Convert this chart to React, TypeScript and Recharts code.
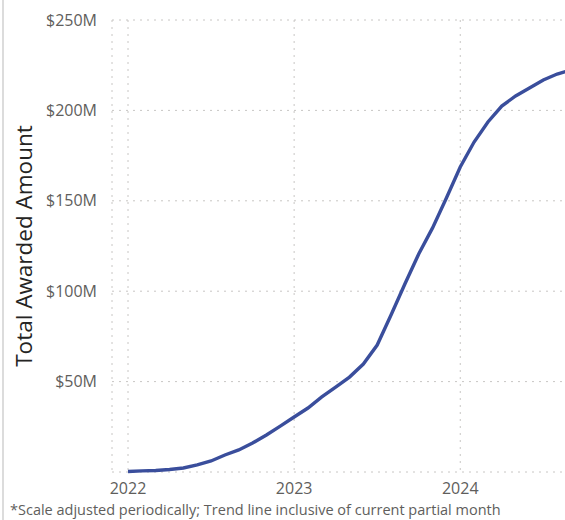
import React from 'react';
import { LineChart, Line, XAxis, YAxis, CartesianGrid } from 'recharts';

const months = [
  '2022-01', '2022-02', '2022-03', '2022-04', '2022-05', '2022-06',
  '2022-07', '2022-08', '2022-09', '2022-10', '2022-11', '2022-12',
  '2023-01', '2023-02', '2023-03', '2023-04', '2023-05', '2023-06',
  '2023-07', '2023-08', '2023-09', '2023-10', '2023-11', '2023-12',
  '2024-01', '2024-02', '2024-03', '2024-04', '2024-05', '2024-06',
  '2024-07', '2024-08', '2024-09',
];

const awardedM = [
  0.3, 0.6, 0.8, 1.4, 2.2, 3.9,
  6.1, 9.4, 12.2, 16.0, 20.5, 25.4,
  30.4, 35.4, 41.5, 47.0, 52.5, 59.7,
  70.2, 86.8, 104.0, 120.6, 135.0, 151.5,
  168.7, 182.5, 193.6, 202.4, 208.0, 212.4,
  216.8, 220.1, 222.3,
];

const yearTicks = [2022, 2023, 2024];
const valueTicks = [50, 100, 150, 200, 250];
const yTitle = 'Total Awarded Amount';
const footnote = '*Scale adjusted periodically; Trend line inclusive of current partial month';

const baseYear = 2022;
const data = months.map((m, i) => {
  const [y, mo] = m.split('-').map(Number);
  return { t: (y - baseYear) * 12 + (mo - 1), v: awardedM[i] };
});
const xTicks = yearTicks.map((y) => (y - baseYear) * 12);

const FONT = '"Segoe UI", "Open Sans", sans-serif';

export default function App() {
  return (
    <div
      style={{
        position: 'absolute',
        left: 0,
        top: 0,
        width: 565,
        height: 520,
        overflow: 'hidden',
        background: '#ffffff',
        fontFamily: FONT,
      }}
    >
      <div style={{ position: 'absolute', left: 0, top: 0 }}>
        <LineChart
          width={600}
          height={520}
          data={data}
          margin={{ top: 20, right: 25, bottom: 8, left: 0 }}
        >
          <CartesianGrid stroke="#c8c6c4" strokeDasharray="2 5" horizontal vertical />
          <XAxis
            dataKey="t"
            type="number"
            domain={[0, 32]}
            ticks={xTicks}
            interval={0}
            padding={{ left: 16, right: 4 }}
            tickFormatter={(t: number) => String(baseYear + t / 12)}
            axisLine={false}
            tickLine={false}
            tickSize={0}
            tickMargin={11}
            height={40}
            tick={{ fill: '#605e5c', fontSize: 16, fontFamily: FONT }}
          />
          <YAxis
            type="number"
            domain={[0, 250]}
            ticks={valueTicks}
            interval={0}
            width={112}
            axisLine={false}
            tickLine={false}
            tickSize={0}
            tickMargin={15}
            tickFormatter={(v: number) => `$${v}M`}
            tick={{ fill: '#605e5c', fontSize: 16, fontFamily: FONT }}
            label={{
              value: yTitle,
              angle: -90,
              position: 'insideLeft',
              offset: 24,
              style: { textAnchor: 'middle', fontSize: 22.5, fill: '#252423', fontFamily: FONT },
            }}
          />
          <Line
            type="linear"
            dataKey="v"
            stroke="#3a4e9c"
            strokeWidth={3.4}
            dot={false}
            activeDot={false}
            isAnimationActive={false}
          />
        </LineChart>
      </div>
      <div
        style={{
          position: 'absolute',
          left: 2,
          top: 0,
          width: 2,
          height: 520,
          background: '#dcdcdc',
        }}
      />
      <div
        style={{
          position: 'absolute',
          left: 10,
          top: 500,
          fontSize: 14.5,
          color: '#605e5c',
          whiteSpace: 'nowrap',
          fontFamily: FONT,
          lineHeight: '20px',
        }}
      >
        {footnote}
      </div>
    </div>
  );
}
